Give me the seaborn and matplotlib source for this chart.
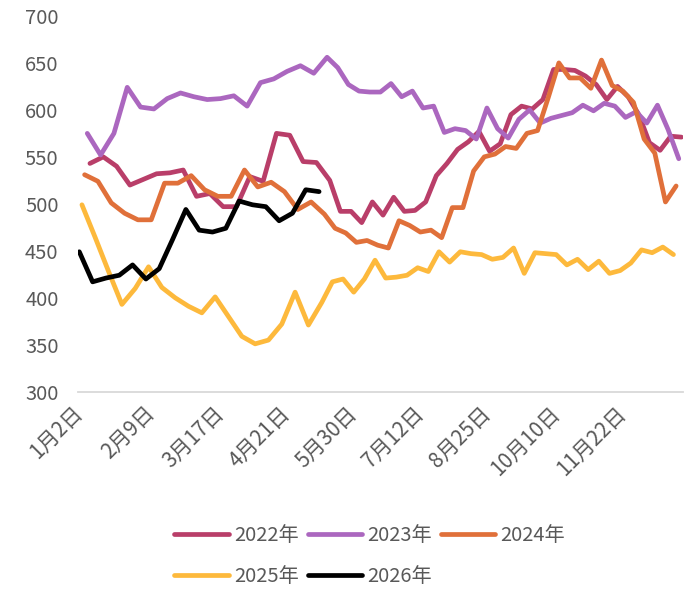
import numpy as np
import pandas as pd
import matplotlib
matplotlib.use('Agg')
import matplotlib.pyplot as plt
import seaborn as sns

# weekly (Friday) values per year
YEARS = ['2022年', '2023年', '2024年', '2025年', '2026年']
FIRST_FRIDAY = ['2022-01-07', '2023-01-06', '2024-01-05', '2025-01-03', '2026-01-02']
COLORS = ['#B93E69', '#AB67BF', '#E0703A', '#FDB93C', '#000000']

V2022 = [543, 550, 540, 520, 526, 532, 533, 536, 508, 511, 497, 497, 529,
         524, 575, 573, 545, 544, 525, 492, 492, 480, 502, 488, 507, 492,
         493, 502, 530, 543, 558, 566, 577, 556, 564, 595, 604, 601, 611,
         643, 643, 642, 636, 627, 611, 625, 614, 595, 565, 557, 572, 571]
V2023 = [575, 552, 575, 624, 603, 601, 612, 618, 614, 611, 612, 615, 604,
         629, 633, 641, 647, 639, 656, 645, 627, 620, 619, 619, 628, 614,
         620, 602, 604, 576, 580, 578, 569, 602, 580, 570, 590, 600, 586,
         591, 594, 597, 605, 599, 607, 604, 592, 598, 586, 605, 579, 548]
V2024 = [531, 524, 501, 490, 483, 483, 522, 522, 530, 515, 508, 508, 536,
         518, 523, 513, 494, 502, 489, 474, 469, 459, 461, 456, 453, 482,
         477, 470, 472, 464, 496, 496, 535, 550, 553, 561, 559, 575, 578,
         613, 650, 634, 634, 623, 653, 626, 620, 608, 569, 554, 502, 519]
V2025 = [499, 464, 428, 393, 410, 433, 411, 400, 391, 384, 401, 380, 359,
         351, 355, 372, 406, 371, 395, 417, 420, 406, 420, 440, 421, 422,
         424, 432, 428, 449, 438, 449, 447, 446, 441, 443, 453, 426, 448,
         447, 446, 435, 441, 430, 439, 426, 429, 437, 451, 448, 454, 446]
V2026 = [449, 417, 421, 424, 435, 420, 431, 462, 494, 472, 470, 474, 503,
         499, 497, 482, 490, 515, 513]

TICK_DATES = ['01-02', '02-09', '03-17', '04-21', '05-30', '07-12', '08-25',
              '10-10', '11-22']
TICK_LABELS = ['1月2日', '2月9日', '3月17日', '4月21日', '5月30日', '7月12日',
               '8月25日', '10月10日', '11月22日']

TEXT_COLOR = '#595959'


def main():
    sns.set_style('white')
    plt.rcParams['font.family'] = ['Noto Sans CJK SC', 'DejaVu Sans']

    # long table, x axis = union of all month-day dates (category axis)
    frames = []
    for year, start, vals in zip(YEARS, FIRST_FRIDAY,
                                 [V2022, V2023, V2024, V2025, V2026]):
        dates = pd.date_range(start, periods=len(vals), freq='7D')
        frames.append(pd.DataFrame({'year': year,
                                    'md': dates.strftime('%m-%d'),
                                    'value': vals}))
    df = pd.concat(frames, ignore_index=True)
    cats = sorted(df['md'].unique())
    pos = {md: i for i, md in enumerate(cats)}
    df['x'] = df['md'].map(pos)

    fig = plt.figure(figsize=(6.96, 5.90), dpi=100)
    ax = fig.add_axes([0.112, 0.336, 0.869, 0.637])

    for year, color in zip(YEARS, COLORS):
        sub = df[df['year'] == year]
        sns.lineplot(data=sub, x='x', y='value', color=color, label=year,
                     linewidth=3.4, ax=ax, sort=False,
                     solid_joinstyle='round', solid_capstyle='round')

    ax.set_xlim(-0.5, len(cats) - 0.5)
    ax.set_ylim(300, 700)
    ax.set_yticks(np.arange(300, 701, 50))
    ax.set_xticks([pos[d] for d in TICK_DATES])
    ax.set_xticklabels(TICK_LABELS, rotation=45, ha='right', va='center',
                       rotation_mode='anchor')
    ax.set_xlabel('')
    ax.set_ylabel('')
    ax.tick_params(axis='x', length=0, pad=13, labelsize=15, labelcolor=TEXT_COLOR)
    ax.tick_params(axis='y', length=0, pad=14, labelsize=14.5, labelcolor=TEXT_COLOR)
    for lab in ax.get_xticklabels() + ax.get_yticklabels():
        lab.set_fontweight('light')
    for side in ['top', 'right', 'left']:
        ax.spines[side].set_visible(False)
    ax.spines['bottom'].set_color('#D9D9D9')
    ax.spines['bottom'].set_linewidth(1.3)

    # legend in row order: 2022 2023 2024 / 2025 2026
    handles, labels = ax.get_legend_handles_labels()
    order = [0, 3, 1, 4, 2]
    ax.legend([handles[i] for i in order], [labels[i] for i in order],
              ncol=3, loc='center', bbox_to_anchor=(0.531, 0.058),
              bbox_transform=fig.transFigure, frameon=False,
              fontsize=14.5, labelcolor=TEXT_COLOR, handlelength=2.7,
              handletextpad=0.25, columnspacing=0.45, labelspacing=1.0)

    fig.savefig('out.png', dpi=100)
    plt.close('all')


if __name__ == "__main__":
    main()
